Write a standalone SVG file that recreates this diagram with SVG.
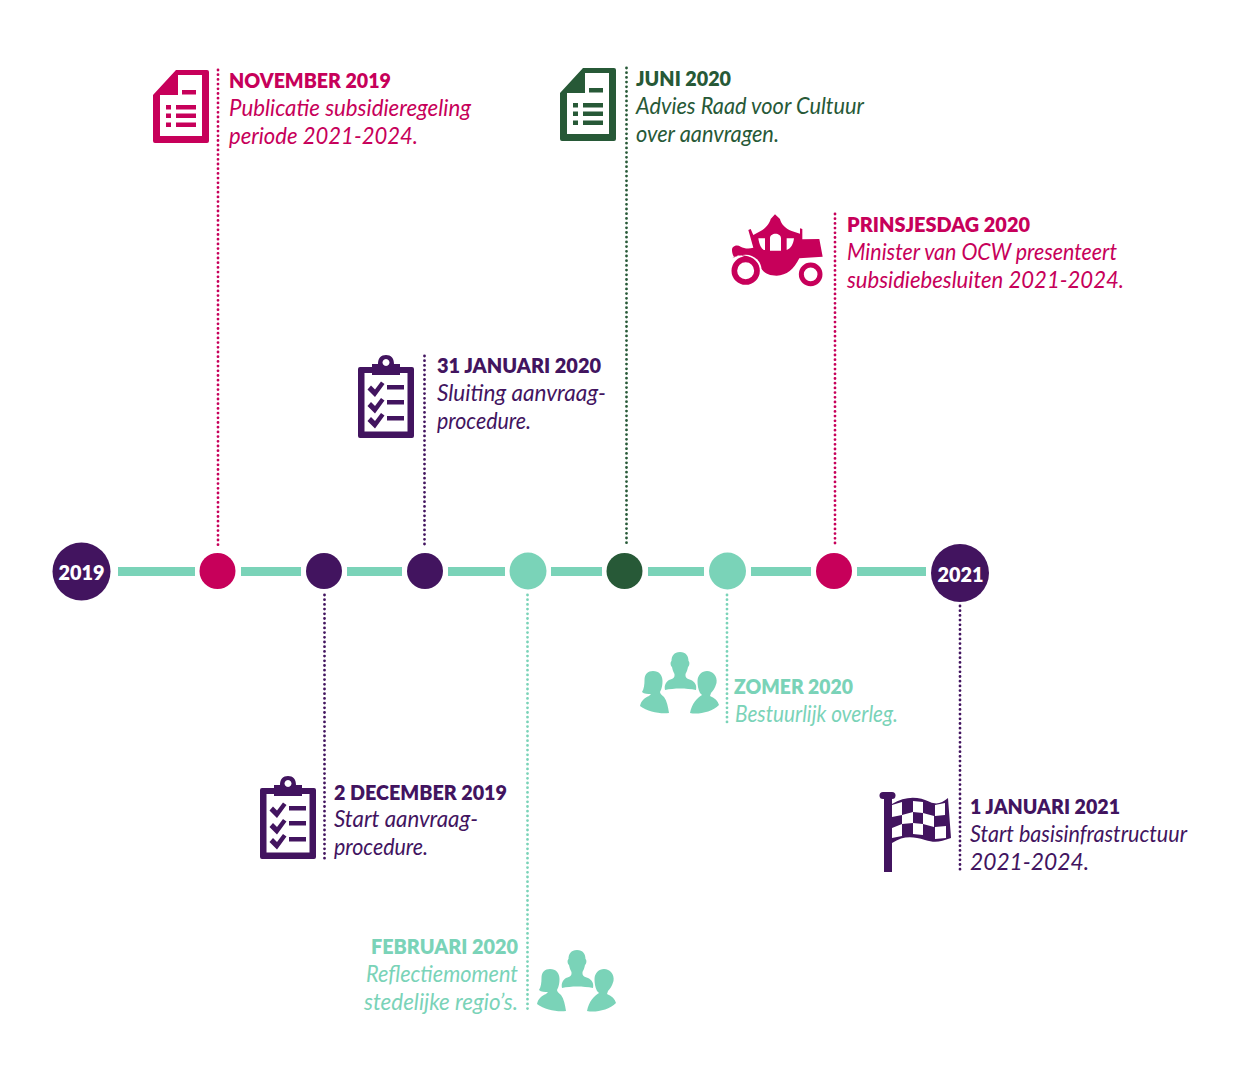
<svg xmlns="http://www.w3.org/2000/svg" width="1250" height="1079" viewBox="0 0 1250 1079">
<style>
text{font-family:"Lato","Noto Sans","Liberation Sans",sans-serif}
.h{font-size:21px;font-weight:800}
.t{font-size:23px;font-style:italic;font-weight:400}
.y{font-size:21px;font-weight:800;fill:#fff;text-anchor:middle}
.m{fill:#C7005A}.p{fill:#42145F}.g{fill:#275937}.n{fill:#7AD3B8}
.d{fill:none;stroke-width:2.8;stroke-linecap:round;stroke-dasharray:0 4.7}
.bar{fill:#7AD3B8}
</style>
<defs>
<symbol id="doc" viewBox="0 0 56 73" width="56" height="73" overflow="visible">
<path fill-rule="evenodd" d="M23,0H54a2,2 0 0 1 2,2V71a2,2 0 0 1 -2,2H2a2,2 0 0 1 -2,-2V25Z M25,5V25H7V66H49V5Z"/>
<path d="M29,20h14v4.500h-14Z M13,35h5v4.500h-5Z M23,35h20v4.500h-20Z M13,43.500h5v4.500h-5Z M23,43.500h20v4.500h-20Z M13,52.500h5v4.500h-5Z M23,52.500h20v4.500h-20Z"/>
</symbol>
<symbol id="clip" viewBox="0 0 56 83" width="56" height="83" overflow="visible">
<path fill-rule="evenodd" d="M2,12H14V9H20C20,3 23,0 28,0S36,3 36,9H42V12H54a2,2 0 0 1 2,2V81a2,2 0 0 1 -2,2H2a2,2 0 0 1 -2,-2V14a2,2 0 0 1 2,-2Z M6.500,18V76.500H49.500V18H42V20H14V18Z M28,4a3.500,3.500 0 1 0 .01,0Z"/>
<path d="M29,30h17v4.500h-17Z M29,45h17v4.500h-17Z M29,61h17v4.500h-17Z"/>
<path d="M13,30.500l4,4l6,-8l3.500,2.500l-9.500,13l-7.500,-7.500Z M13,47l4,4l6,-8l3.500,2.500l-9.500,13l-7.500,-7.500Z M13,62l4,4l6,-8l3.500,2.500l-9.500,13l-7.500,-7.500Z"/>
</symbol>
<symbol id="people" viewBox="0 0 80 64" width="80" height="64" overflow="visible">
<path d="M40,1C46,1 48.500,5 48.500,10C50,11 49.500,15 48,16C47.500,19 46.500,21 45.500,23V25C45.500,27 48,28 51,29C55,31 57,34 56,39C46,37 34,37 25,39C24,34 26,31 29,29C32,28 34.500,27 34.500,25V23C33.500,21 32.500,19 32,16C30.500,15 30,11 31.500,10C31.500,5 34,1 40,1Z"/>
<path d="M13,20C19,20 22.500,24 22.500,30C22.500,34 22,37 20,41C20,43 22,44 24,46C27,50 28,56 29,62C20,63 8,61 0,55C1,50 4,47 9,45L11,43C8,43 4,43 2,41C4,38 4.500,33 4.500,29C4.500,23 8,20 13,20Z"/>
<path d="M67,20C62,20 57.500,24 57.500,30C57.500,34 58,38 60,42L62,44C57,47 52,52 50,62C58,64 72,61 79,54C78,50 75,47 70,45L71,42C73,40 75,37 76.500,32C77.500,25 73,20 67,20Z"/>
</symbol>
</defs>

<g id="connectors">
<path class="d" stroke="#C7005A" d="M218,70V548"/>
<path class="d" stroke="#42145F" d="M324.500,595V860"/>
<path class="d" stroke="#42145F" d="M424.500,356V548"/>
<path class="d" stroke="#7AD3B8" d="M527.500,595V1012"/>
<path class="d" stroke="#275937" d="M626.500,68V545"/>
<path class="d" stroke="#7AD3B8" d="M727,595V725"/>
<path class="d" stroke="#C7005A" d="M835,214V546"/>
<path class="d" stroke="#42145F" d="M960,606V872"/>
<g id="timeline-bars">
<rect class="bar" x="118" y="567" width="77" height="9"/>
<rect class="bar" x="241" y="567" width="60" height="9"/>
<rect class="bar" x="347" y="567" width="55" height="9"/>
<rect class="bar" x="448" y="567" width="57" height="9"/>
<rect class="bar" x="551" y="567" width="51" height="9"/>
<rect class="bar" x="648" y="567" width="56" height="9"/>
<rect class="bar" x="751" y="567" width="60" height="9"/>
<rect class="bar" x="857" y="567" width="69" height="9"/>
</g>
</g>

<g id="node-2019"><circle class="p" cx="81.500" cy="571.500" r="29"/><text class="y" x="81.500" y="580" textLength="46" lengthAdjust="spacingAndGlyphs">2019</text></g>
<g id="dot-nov-2019"><circle class="m" cx="217.500" cy="571" r="18"/></g>
<g id="dot-dec-2019"><circle class="p" cx="324" cy="571" r="18"/></g>
<g id="dot-jan-2020"><circle class="p" cx="425" cy="571" r="18"/></g>
<g id="dot-feb-2020"><circle class="n" cx="528" cy="571" r="18.500"/></g>
<g id="dot-jun-2020"><circle class="g" cx="624.500" cy="571" r="18"/></g>
<g id="dot-zomer-2020"><circle class="n" cx="727.500" cy="571" r="18.500"/></g>
<g id="dot-prinsjesdag-2020"><circle class="m" cx="834" cy="571" r="18"/></g>
<g id="node-2021"><circle class="p" cx="960" cy="573" r="29"/><text class="y" x="960.500" y="582" textLength="46" lengthAdjust="spacingAndGlyphs">2021</text></g>

<g id="nov-2019">
<use href="#doc" x="153" y="70" class="m"/>
<text class="h m" x="229" y="88" textLength="162" lengthAdjust="spacingAndGlyphs">NOVEMBER 2019</text>
<text class="t m" x="229" y="116" textLength="242" lengthAdjust="spacingAndGlyphs">Publicatie  subsidieregeling</text>
<text class="t m" x="229" y="144" textLength="189" lengthAdjust="spacingAndGlyphs">periode 2021-2024.</text>
</g>
<g id="jun-2020">
<use href="#doc" x="560" y="68" class="g"/>
<text class="h g" x="636" y="86" textLength="95" lengthAdjust="spacingAndGlyphs">JUNI 2020</text>
<text class="t g" x="636" y="114" textLength="228" lengthAdjust="spacingAndGlyphs">Advies Raad voor Cultuur</text>
<text class="t g" x="636" y="142" textLength="143" lengthAdjust="spacingAndGlyphs">over aanvragen.</text>
</g>
<g id="prinsjesdag-2020">
<g transform="translate(720,205) scale(.3333)">
<path class="m" d="M36,135C36,122 52,118 62,125C72,131 88,132 100,128L92,100L85,75L92,72L100,90L122,78C140,68 150,52 152,42L165,28L180,42C183,56 195,70 215,78L240,86L240,70L247,72L247,103L298,102L308,155L238,160C222,192 200,212 170,212C142,212 125,200 112,172C95,148 62,145 42,156C38,150 36,142 36,135Z"/>
<path fill="#fff" d="M115,100H135V135C125,135 118,120 115,100Z M150,100C150,82 183,82 183,100V137H150Z M200,100H222C220,118 212,132 200,135Z"/>
<circle cx="77" cy="197" r="48" fill="#fff"/>
<circle cx="272" cy="208" r="42" fill="#fff"/>
<path class="m" d="M36,160C60,142 100,150 118,185L104,170L60,150Z"/>
<circle cx="77" cy="197" r="34" fill="none" stroke="#C7005A" stroke-width="17"/>
<circle cx="272" cy="208" r="28" fill="none" stroke="#C7005A" stroke-width="15"/>
</g>
<text class="h m" x="847" y="232" textLength="183" lengthAdjust="spacingAndGlyphs">PRINSJESDAG 2020</text>
<text class="t m" x="847" y="260" textLength="270" lengthAdjust="spacingAndGlyphs">Minister van OCW presenteert</text>
<text class="t m" x="847" y="288" textLength="277" lengthAdjust="spacingAndGlyphs">subsidiebesluiten 2021-2024.</text>
</g>
<g id="jan-2020">
<use href="#clip" x="358" y="355" class="p"/>
<text class="h p" x="437" y="373" textLength="164" lengthAdjust="spacingAndGlyphs">31 JANUARI 2020</text>
<text class="t p" x="437" y="401" textLength="169" lengthAdjust="spacingAndGlyphs">Sluiting aanvraag-</text>
<text class="t p" x="437" y="429" textLength="94" lengthAdjust="spacingAndGlyphs">procedure.</text>
</g>
<g id="dec-2019">
<use href="#clip" x="260" y="776" class="p"/>
<text class="h p" x="334" y="800" textLength="173" lengthAdjust="spacingAndGlyphs">2 DECEMBER 2019</text>
<text class="t p" x="334" y="827" textLength="144" lengthAdjust="spacingAndGlyphs">Start aanvraag-</text>
<text class="t p" x="334" y="855" textLength="94" lengthAdjust="spacingAndGlyphs">procedure.</text>
</g>
<g id="zomer-2020">
<use href="#people" x="640" y="651" class="n"/>
<text class="h n" x="734" y="694" textLength="119" lengthAdjust="spacingAndGlyphs">ZOMER 2020</text>
<text class="t n" x="735" y="722" textLength="163" lengthAdjust="spacingAndGlyphs">Bestuurlijk overleg.</text>
</g>
<g id="feb-2020">
<use href="#people" x="537" y="949" class="n"/>
<text class="h n" x="371" y="954" textLength="147" lengthAdjust="spacingAndGlyphs">FEBRUARI 2020</text>
<text class="t n" x="366" y="982" textLength="152" lengthAdjust="spacingAndGlyphs">Reflectiemoment</text>
<text class="t n" x="364" y="1010" textLength="154" lengthAdjust="spacingAndGlyphs">stedelijke regio’s.</text>
</g>
<g id="jan-2021">
<g class="p">
<path d="M884,799H892V872H884Z"/>
<rect x="879.500" y="792" width="16" height="7" rx="3.500"/>
<path d="M892,804C905,796 918,796 930,802C937,805 942,803 948,798L951,838C940,842 935,843 925,840C912,836 903,836 892,843Z"/>
</g>
<path fill="#fff" d="M892,805L902,802V815L892,817Z M913,801L923,802V813L913,812Z M935,805L945,803V815L935,816Z M902,815L913,812V823L902,824Z M923,813L934,816V827L923,824Z M892,828L902,824V836L892,838Z M913,823L923,824V835L913,834Z M935,827L946,826V838L935,839Z"/>
<text class="h p" x="970" y="814" textLength="150" lengthAdjust="spacingAndGlyphs">1 JANUARI 2021</text>
<text class="t p" x="970" y="842" textLength="217" lengthAdjust="spacingAndGlyphs">Start basisinfrastructuur</text>
<text class="t p" x="970" y="870" textLength="119" lengthAdjust="spacingAndGlyphs">2021-2024.</text>
</g>
</svg>
